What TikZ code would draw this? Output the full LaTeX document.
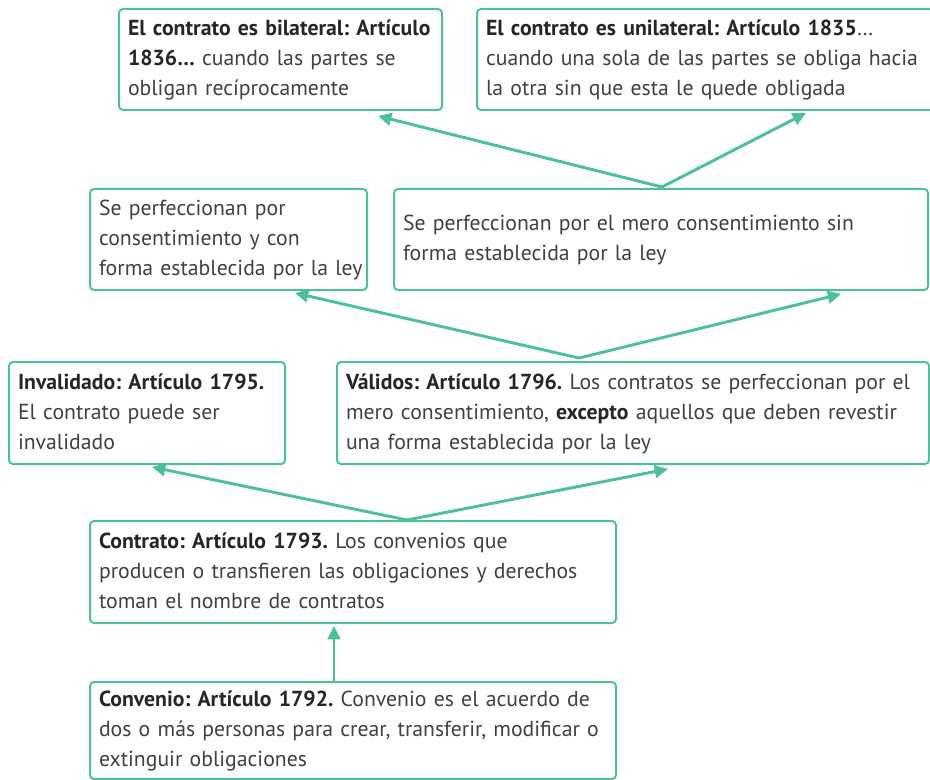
\documentclass[tikz,border=0pt]{standalone}
\usepackage{fontspec}
\setmainfont[WordSpace={0.8}]{PT Sans}
\usetikzlibrary{arrows.meta,calc}
\definecolor{tealc}{HTML}{4DBF9E}
\definecolor{txt}{HTML}{404040}
\definecolor{txtb}{HTML}{262626}
\newcommand\bt[1]{\textcolor{txtb}{\textbf{#1}}}
\tikzset{
  x=0.75pt, y=-0.75pt,
  boxnode/.style={draw=tealc, line width=1.5pt, rounded corners=3pt, anchor=north west,
    align=left, inner xsep=6.75pt, inner ysep=0pt, text=txt,
    font=\fontsize{16.3}{22.5}\selectfont\frenchspacing},
  arr/.style={draw=tealc, line width=2.2pt, -{Triangle[length=10pt,width=9.5pt]}}
}
\newcommand\bx[6]{\node[boxnode, minimum width={(#4-#2)*0.75pt}, minimum height={(#5-#3)*0.75pt},
  text width={(#4-#2-18)*0.75pt}] (#1) at (#2,#3) {\begin{tabular}{@{}l@{}}#6\end{tabular}};}
\begin{document}
\begin{tikzpicture}
\useasboundingbox (0,0) rectangle (930,780);
\bx{bil}{118}{8}{441}{109}{\bt{El contrato es bilateral: Artículo}\\\bt{1836…} cuando las partes se\\obligan recíprocamente}
\bx{uni}{476}{8}{940}{109}{\bt{El contrato es unilateral: Artículo 1835}…\\cuando una sola de las partes se obliga hacia\\la otra sin que esta le quede obligada}
\bx{con}{89}{188}{366}{289}{Se perfeccionan por\\consentimiento y con\\forma establecida por la ley}
\bx{mer}{393}{188}{927}{289}{Se perfeccionan por el mero consentimiento sin\\forma establecida por la ley}
\bx{inv}{8}{361}{284}{463}{\bt{Invalidado: Artículo 1795.}\\El contrato puede ser\\invalidado}
\bx{val}{336}{361}{928}{463}{\bt{Válidos: Artículo 1796.} Los contratos se perfeccionan por el\\mero consentimiento, \bt{excepto} aquellos que deben revestir\\una forma establecida por la ley}
\bx{ctr}{89}{520}{615}{622}{\bt{Contrato: Artículo 1793.} Los convenios que\\producen o transfieren las obligaciones y derechos\\toman el nombre de contratos}
\bx{cnv}{89}{681}{615}{778}{\bt{Convenio: Artículo 1792.} Convenio es el acuerdo de\\dos o más personas para crear, transferir, modificar o\\extinguir obligaciones}
% fork points and arrow tips
\coordinate (f1) at (662,187);
\coordinate (t1a) at (378,116);
\coordinate (t1b) at (806,113);
\coordinate (f2) at (579,358);
\coordinate (t2a) at (295,293);
\coordinate (t2b) at (841,294);
\coordinate (f3) at (407,520);
\coordinate (t3a) at (152,467);
\coordinate (t3b) at (668,469);
\coordinate (f4) at (334,681);
\coordinate (t4) at (334,626);
\draw[arr] (f1) -- (t1a);
\draw[arr] (f1) -- (t1b);
\draw[arr] (f2) -- (t2a);
\draw[arr] (f2) -- (t2b);
\draw[arr] (f3) -- (t3a);
\draw[arr] (f3) -- (t3b);
\draw[arr] (f4) -- (t4);
\end{tikzpicture}
\end{document}
